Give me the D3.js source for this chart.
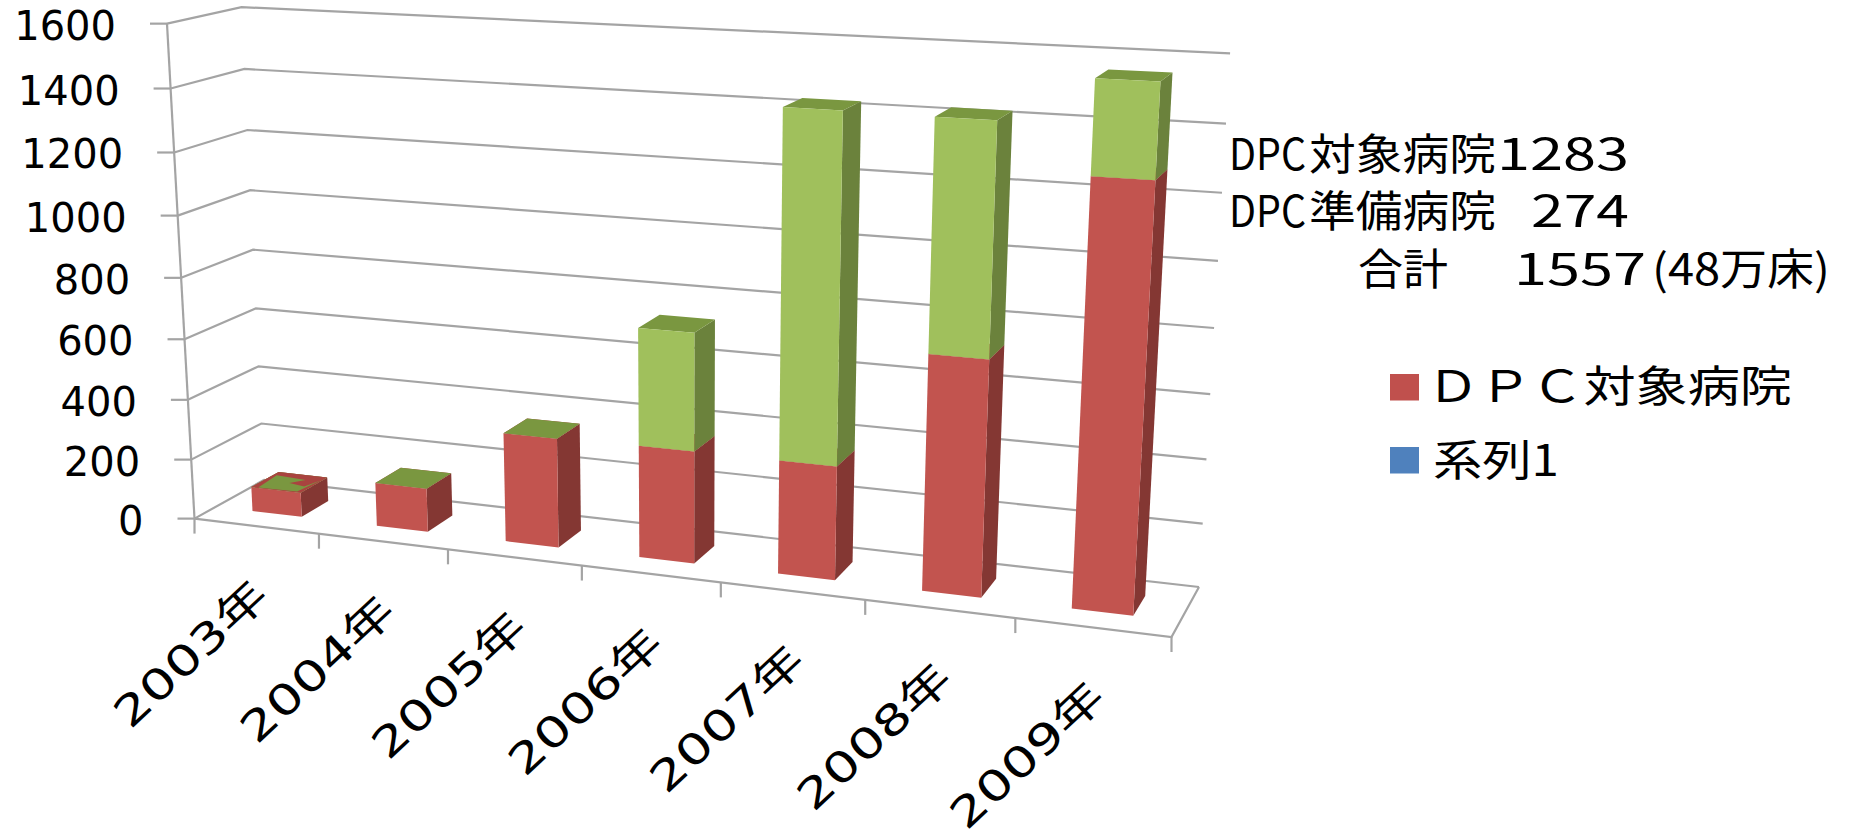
<!DOCTYPE html>
<html lang="ja">
<head>
<meta charset="utf-8">
<title>DPC対象病院の推移</title>
<script src="https://cdn.jsdelivr.net/npm/d3@7/dist/d3.min.js"></script>
<style>
  html, body { margin: 0; padding: 0; background: #fff; }
  svg { display: block; }
  text { fill: #000; }
</style>
</head>
<body>
<svg id="chart" width="1854" height="831" viewBox="0 0 1854 831"></svg>
<script>
// Hospital counts per fiscal year
const years = ["2003年", "2004年", "2005年", "2006年", "2007年", "2008年", "2009年"];
const dpcHospitals = [82, 144, 355, 360, 360, 730, 1283];
const preparingHospitals = [0, 0, 0, 372, 1068, 695, 274];
const valueTicks = [0, 200, 400, 600, 800, 1000, 1200, 1400, 1600];
const legendLabels = ["ＤＰＣ対象病院", "系列1"];

const COLORS = {
  grid: "#a4a4a4",
  dpc: { front: "#c2544f", side: "#843733", top: "#a9433f" },
  prep: { front: "#a0c05c", side: "#6b823c", top: "#7a9740" },
  legend: ["#c0504d", "#4f81bd"]
};

const svg = d3.select("#chart");
const fontLatin = '"DejaVu Sans", "Noto Sans CJK JP", sans-serif';
const fontCJK = '"Noto Sans CJK JP", sans-serif';

// Pinhole projection of the chart box. The floor is a homography of the unit square
// (front-left, front-right, back-right, back-left); uprights run towards a vanishing point
// far below the chart, and RISE sets how fast they shorten.
const FLOOR = [[194.5, 518.6], [1171.5, 637], [1199, 587], [264, 480]];
const VANISH = [687, 9380];
const RISE = -0.0529;

const floorHomography = (function ([p0, p1, p2, p3]) {
  const sx = p0[0] - p1[0] + p2[0] - p3[0], sy = p0[1] - p1[1] + p2[1] - p3[1];
  const dx1 = p1[0] - p2[0], dx2 = p3[0] - p2[0], dy1 = p1[1] - p2[1], dy2 = p3[1] - p2[1];
  const det = dx1 * dy2 - dx2 * dy1;
  const g = (sx * dy2 - dx2 * sy) / det, h = (dx1 * sy - sx * dy1) / det;
  return (u, w) => [
    (p1[0] - p0[0] + g * p1[0]) * u + (p3[0] - p0[0] + h * p3[0]) * w + p0[0],
    (p1[1] - p0[1] + g * p1[1]) * u + (p3[1] - p0[1] + h * p3[1]) * w + p0[1],
    g * u + h * w + 1
  ];
})(FLOOR);

const valueScale = d3.scaleLinear().domain([0, 1600]).range([0, 1]);
const categoryScale = d3.scaleBand().domain(years).range([0, 1]).paddingInner(0.6).paddingOuter(0.3);
const DEPTH_FRONT = 0.3, DEPTH_BACK = 0.7;

function project(u, w, value) {
  const [nx, ny, q] = floorHomography(u, w);
  const r = RISE * valueScale(value);
  return [(nx + r * VANISH[0]) / (q + r), (ny + r * VANISH[1]) / (q + r)];
}

const lineGen = d3.line();

// Walls and floor outline
const walls = svg.append("g").attr("fill", "none").attr("stroke", COLORS.grid).attr("stroke-width", 2.2);
valueTicks.forEach(tick => {
  const corner = project(0, 0, tick), backLeft = project(0, 1, tick), backRight = project(1, 1, tick);
  walls.append("path").attr("d", lineGen([corner, backLeft, backRight]));
  walls.append("path").attr("d", lineGen([[corner[0] - 17, corner[1]], corner]));
});
walls.append("path").attr("d", lineGen([project(0, 0, 0), project(0, 0, 1600)]));
walls.append("path").attr("d", lineGen([project(0, 0, 0), project(1, 0, 0), project(1, 1, 0)]));

// Tick marks along the front edge of the floor
const categoryEdges = d3.range(years.length + 1).map(i => i / years.length);
categoryEdges.forEach(edge => {
  const p = project(edge, 0, 0);
  walls.append("path").attr("d", lineGen([p, [p[0], p[1] + 15]]));
});

// Value labels
svg.append("g").selectAll("text").data(valueTicks).join("text")
  .attr("x", d => project(0, 0, d)[0] - 51)
  .attr("y", d => project(0, 0, d)[1] + 16)
  .attr("text-anchor", "end")
  .attr("font-family", fontLatin)
  .attr("font-size", 40)
  .text(d => d);

// Stacked columns, drawn as three visible faces per segment
const stackRows = years.map((year, i) => ({ year, dpc: dpcHospitals[i], prep: preparingHospitals[i] }));
const stacked = d3.stack().keys(["dpc", "prep"])(stackRows);

function facePath(points) { return lineGen(points) + "Z"; }

const bars = svg.append("g");
stackRows.forEach((row, i) => {
  const u0 = categoryScale(row.year), u1 = u0 + categoryScale.bandwidth();
  stacked.forEach(series => {
    const [lo, hi] = series[i];
    const c = COLORS[series.key];
    const g = bars.append("g").attr("fill", c.front);
    g.append("path").attr("fill", c.side).attr("d", facePath([
      project(u1, DEPTH_FRONT, lo), project(u1, DEPTH_BACK, lo),
      project(u1, DEPTH_BACK, hi), project(u1, DEPTH_FRONT, hi)]));
    g.append("path").attr("fill", c.top).attr("d", facePath([
      project(u0, DEPTH_FRONT, hi), project(u1, DEPTH_FRONT, hi),
      project(u1, DEPTH_BACK, hi), project(u0, DEPTH_BACK, hi)]));
    g.append("path").attr("d", facePath([
      project(u0, DEPTH_FRONT, lo), project(u1, DEPTH_FRONT, lo),
      project(u1, DEPTH_FRONT, hi), project(u0, DEPTH_FRONT, hi)]));
  });
});

// The first column's cap: coplanar red and green faces interleave, so red shows around the green.
(function firstColumnCap() {
  const u0 = categoryScale(years[0]), bw = categoryScale.bandwidth();
  const top = dpcHospitals[0];
  const at = (a, b) => project(u0 + a * bw, DEPTH_FRONT + b * (DEPTH_BACK - DEPTH_FRONT), top);
  bars.append("path").attr("fill", COLORS.dpc.top)
    .attr("d", facePath([at(0, 0), at(1, 0), at(1, 1), at(0, 1)]));
  bars.append("path").attr("fill", COLORS.prep.top)
    .attr("d", facePath([[.13, .02], [.07, .8], [.71, .72], [.52, .46], [.875, .36], [.98, .8], [.9, .05]]
      .map(([a, b]) => at(a, b))));
})();

// Rotated year labels
svg.append("g").selectAll("text").data(years).join("text")
  .attr("transform", d => {
    const c = categoryScale(d) + categoryScale.bandwidth() / 2;
    const p = project(c, 0, 0);
    return `translate(${p[0] + 5},${p[1] + 62}) rotate(-43) scale(1.36,1.04)`;
  })
  .attr("text-anchor", "end")
  .attr("dominant-baseline", "central")
  .attr("font-family", fontLatin)
  .attr("font-size", 40)
  .text(d => d);

// Annotation beside the chart: pieces placed separately so the columns line up
const note = svg.append("g").attr("font-family", fontCJK).attr("font-size", 43);
function stretchedText(parent, str, x, baseline, width) {
  return parent.append("text").attr("x", x).attr("y", baseline)
    .attr("textLength", width).attr("lengthAdjust", "spacingAndGlyphs").text(str);
}
const noteRows = [
  { baseline: 170, parts: [["DPC", 1229, 77], ["対象病院", 1309, 187], ["1283", 1497, 132]] },
  { baseline: 227, parts: [["DPC", 1229, 77], ["準備病院", 1309, 187], ["274", 1531, 98]] },
  { baseline: 285, parts: [["合計", 1358, 90], ["1557", 1514, 132], ["(48万床)", 1652, 178]] }
];
noteRows.forEach(row => row.parts.forEach(([str, x, w]) => stretchedText(note, str, x, row.baseline, w)));

// Legend
const legend = svg.append("g");
const legendY = d3.scalePoint().domain(legendLabels).range([374, 447]);
legend.selectAll("rect").data(legendLabels).join("rect")
  .attr("x", 1390).attr("y", d => legendY(d)).attr("width", 29).attr("height", 26.5)
  .attr("fill", (d, i) => COLORS.legend[i]);
const legendText = svg.append("g").attr("font-family", fontCJK).attr("font-size", 43);
stretchedText(legendText, legendLabels[0], 1427, 402, 365);
stretchedText(legendText, legendLabels[1], 1433, 476, 126);
</script>
</body>
</html>
